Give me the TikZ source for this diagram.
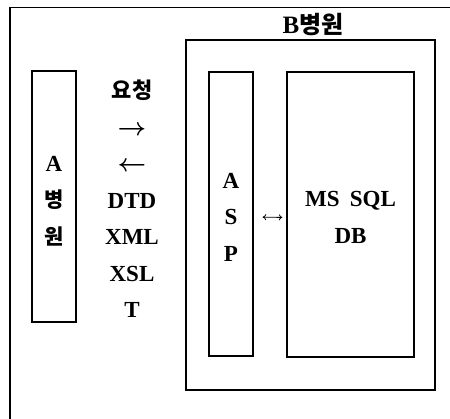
\documentclass[tikz,border=0pt]{standalone}
\usepackage{fontspec}
\setmainfont{Liberation Serif}
\newfontfamily\ko{Noto Sans CJK KR}
\usetikzlibrary{arrows.meta}
\begin{document}
\begin{tikzpicture}[x=1pt,y=-1pt,line width=1.3pt,
  box/.style={draw, inner sep=0pt},
  lbl/.style={inner sep=0pt, align=center, font=\bfseries\fontsize{23}{36.5}\selectfont},
  link/.style={{To[length=3.5pt,width=6pt]}-{To[length=3.5pt,width=6pt]}, line width=0.8pt}]
\useasboundingbox (0,0) rectangle (450,419);
% outer frame (cut by the picture edge)
\draw (10,419) -- (10,7.5) -- (450,7.5);
% B hospital
\node[box, minimum width=249pt, minimum height=350pt] (bbox) at (310.5,215) {};
\node[lbl] (blabel) at (313,25) {\fontsize{25}{36.5}\selectfont B{\ko\fontsize{24}{36.5}\selectfont 병원}};
% A hospital
\node[box, minimum width=44pt, minimum height=251pt] (abox) at (54,196.5) {};
\node[lbl] (atext) at ([yshift=-4.5pt]abox.center)
  {A\\{\ko\fontsize{21}{36.5}\selectfont 병}\\{\ko\fontsize{21}{36.5}\selectfont 원}};
% messages
\node[lbl] (msg) at (132,199)
  {{\ko\fontsize{22}{36.5}\selectfont 요청}\\{\boldmath$\rightarrow$}\\{\boldmath$\leftarrow$}\\DTD\\XML\\XSL\\T};
% ASP and DB
\node[box, minimum width=44pt, minimum height=284pt] (asp) at (231,214) {};
\node[lbl] (asptext) at ([yshift=-3pt]asp.center) {A\\S\\P};
\node[box, minimum width=127pt, minimum height=285pt] (db) at (350.5,214.5) {};
\node[lbl] (dbtext) at ([yshift=-3pt]db.center) {MS\hspace{0.45em}SQL\\DB};
\draw[link, shorten <=9pt, shorten >=4pt] ([yshift=-3pt]asp.east) -- ([yshift=-3pt]db.west);
\end{tikzpicture}
\end{document}
